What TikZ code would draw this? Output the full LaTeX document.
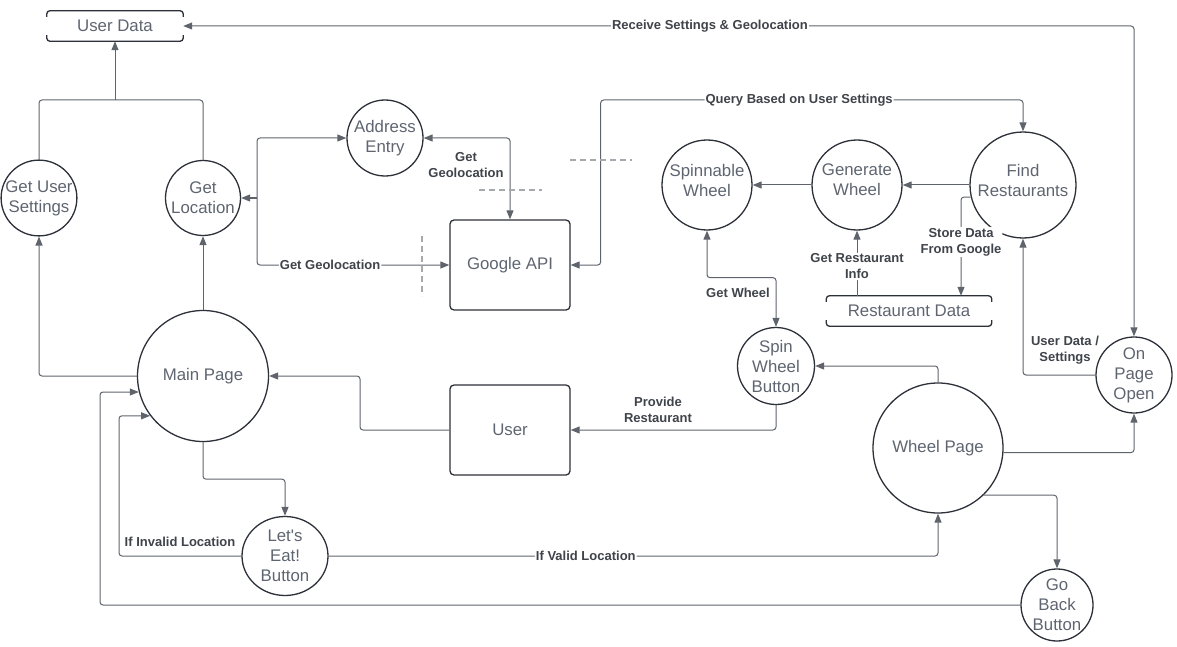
\documentclass[tikz,border=0pt]{standalone}
\usepackage{fontspec}
\setmainfont{Liberation Sans}
\usetikzlibrary{arrows.meta,shapes.geometric,calc}

\definecolor{edgeclr}{HTML}{5F646C}
\definecolor{outline}{HTML}{2C3038}
\definecolor{nodetxt}{HTML}{5E6570}
\definecolor{lbltxt}{HTML}{3F434A}
\definecolor{dashclr}{HTML}{A6A9AE}

\newcommand\ndfont{\fontsize{16.8pt}{20pt}\selectfont}
\newcommand\lbfont{\bfseries\fontsize{13pt}{16pt}\selectfont}

\begin{document}
\begin{tikzpicture}[x=1pt,y=-1pt,
  >={Triangle[length=9pt,width=7pt]},
  proc/.style={circle, draw=outline, line width=1.3pt, text=nodetxt,
    align=center, font=\ndfont, inner sep=0pt, minimum size=#1},
  raised/.style={text depth=10pt},
  box/.style={rectangle, draw=outline, line width=1.3pt, rounded corners=4pt,
    text=nodetxt, font=\ndfont, minimum width=120pt, minimum height=90pt},
  store/.style={rectangle, draw=none, text=nodetxt, font=\ndfont,
    minimum height=30pt},
  storeline/.style={draw=outline, line width=1.3pt, rounded corners=3pt},
  conn/.style={draw=edgeclr, line width=1pt, rounded corners=3pt},
  arr/.style={conn, ->},
  biarr/.style={conn, <->},
  lbl/.style={font=\lbfont, text=lbltxt, align=center, inner sep=1pt},
  onl/.style={lbl, fill=white},
  guide/.style={draw=dashclr, line width=1.2pt, dash pattern=on 6pt off 4pt}
]
\useasboundingbox (0,0) rectangle (1177,647);

% processes, data stores and entities
\node[store, minimum width=136pt] (ud) at (115,26) {User Data};
\node[proc=75pt] (gus) at (39,198) {Get User\\Settings};
\node[proc=75pt] (gl) at (203,198) {Get\\Location};
\node[proc=76pt] (ae) at (385,138) {Address\\Entry};
\node[box] (gapi) at (510,265) {Google API};
\node[proc=90pt, raised] (sw) at (707,185) {Spinnable\\Wheel};
\node[proc=90pt, raised] (gw) at (857,185) {Generate\\Wheel};
\node[proc=106pt, raised] (fr) at (1023,185) {Find\\Restaurants};
\node[store, minimum width=165pt] (rd) at (909,311) {Restaurant Data};
\node[proc=77pt] (swb) at (776,366) {Spin\\Wheel\\Button};
\node[box] (user) at (510,430) {User};
\node[proc=131pt] (mp) at (203,376) {Main Page};
\node[ellipse, draw=outline, line width=1.3pt, text=nodetxt, align=center,
  font=\ndfont, inner sep=0pt, minimum width=86pt, minimum height=79pt]
  (le) at (285,556) {Let\textquotesingle s\\Eat!\\Button};
\node[proc=130pt] (wp) at (938,448) {Wheel Page};
\node[proc=76pt] (opo) at (1134,375) {On\\Page\\Open};
\node[proc=72pt] (gb) at (1057,605) {Go\\Back\\Button};

% open-sided data store outlines
\foreach \s in {ud,rd} {
  \draw[storeline] ([yshift=-6pt]\s.north west) -- (\s.north west)
    -- (\s.north east) -- ([yshift=-6pt]\s.north east);
  \draw[storeline] ([yshift=6pt]\s.south west) -- (\s.south west)
    -- (\s.south east) -- ([yshift=6pt]\s.south east);
}

% user data collection
\coordinate (j1) at (115,100);
\draw[conn] (gus.north) |- (j1);
\draw[conn] (gl.north) |- (j1);
\draw[arr] (j1) -- (ud.south);

% geolocation lookups
\coordinate (j2) at (257,198);
\draw[arr] (j2) -- (gl.east);
\draw[arr] (j2) |- (ae.west);
\draw[arr] (j2) |- node[onl, pos=0.69] {Get Geolocation} (gapi.west);
\draw[biarr] (ae.east) -| (gapi.north);
\node[lbl] (lgeo) at (466,165) {Get\\Geolocation};

% restaurant query
\draw[biarr] (gapi.east) -- ++(30,0)
  |- node[onl, pos=0.735] {Query Based on User Settings} (fr.north |- 0,100)
  -- (fr.north);

% settings and geolocation back to the user data store
\draw[biarr] (ud.east) -| node[onl, pos=0.277] {Receive Settings \& Geolocation} (opo.north);

% wheel generation
\draw[arr] (fr.west) -- (gw.east);
\draw[arr] (gw.west) -- (sw.east);
\draw[arr] (fr.193) -| node[onl, pos=0.727] {Store Data\\From Google} (961,0 |- rd.north);
\draw[arr] (gw.south |- rd.north) -- node[onl, pos=0.45] {Get Restaurant\\Info} (gw.south);
\draw[biarr] (sw.south) -- ++(0,47) -| (swb.north);
\node[lbl] (lgw) at (738,293) {Get Wheel};

% spinning and result
\draw[arr] (wp.north) |- (swb.east);
\draw[arr] (swb.south) |- (user.east);
\node[lbl] (lpr) at (658,410) {Provide\\Restaurant};
\draw[arr] (user.west) -- (360,430) |- (mp.east);

% main page flows
\draw[arr] (mp.west) -| (gus.south);
\draw[arr] (mp.north) -- (gl.south);
\draw[arr] (mp.south) -- ++(0,37) -| (le.north);
\draw[arr] (le.west) -- (119,556) |- (mp.217);
\node[lbl] (linv) at (180,542) {If Invalid Location};
\draw[arr] (gb.west) -- (100,605) |- (mp.194);
\draw[arr] (le.east) -| node[onl, pos=0.211] {If Valid Location} (wp.south);

% wheel page flows
\draw[arr] (wp.-46) -| (gb.north);
\draw[arr] (wp.-4) -| (opo.south);
\draw[arr] (opo.west) -| (fr.south);
\node[lbl] (lud) at (1065,350) {User Data /\\Settings};

% dashed guide marks
\draw[guide] (422,236) -- (422,296);
\draw[guide] (479,190) -- (542,190);
\draw[guide] (570,160) -- (632,160);
\end{tikzpicture}
\end{document}
